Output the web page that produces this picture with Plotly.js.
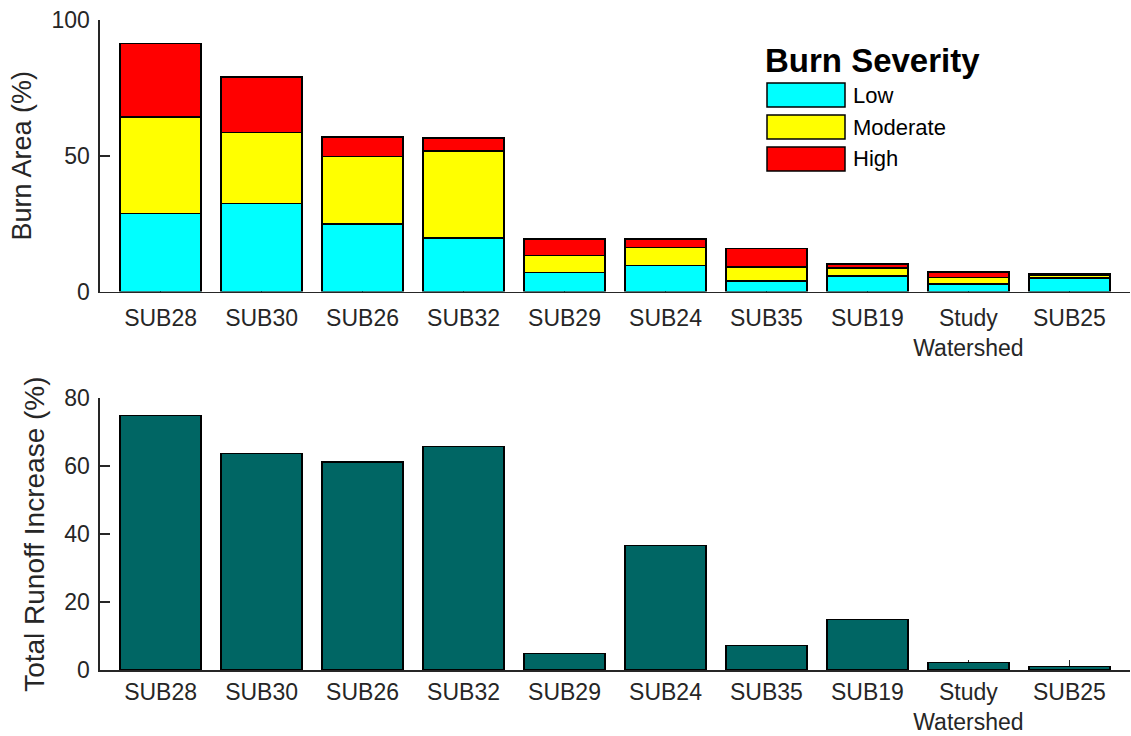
<!DOCTYPE html>
<html>
<head>
<meta charset="utf-8">
<script src="https://cdn.plot.ly/plotly-3.0.1.min.js"></script>
<style>html,body{margin:0;padding:0;background:#fff;}#chart{width:1131px;height:736px;}</style>
</head>
<body>
<div id="chart"></div>
<script>
const categories = ['SUB28','SUB30','SUB26','SUB32','SUB29','SUB24','SUB35','SUB19','Study<br>Watershed','SUB25'];
const lowBurn      = [28.7, 32.4, 24.8, 19.6, 7.0, 9.6, 3.8, 5.6, 2.7, 5.0];
const moderateBurn = [35.5, 26.2, 24.9, 32.2, 6.2, 6.6, 5.2, 3.0, 2.5, 1.0];
const highBurn     = [27.1, 20.5, 7.2, 4.8, 6.2, 3.2, 6.8, 1.5, 1.9, 0.4];
const runoffIncrease = [74.9, 63.8, 61.3, 65.8, 4.8, 36.6, 7.2, 14.9, 2.2, 1.0];
const severityNames = ['Low','Moderate','High'];
const severityColors = ['#00FFFF','#FFFF00','#FF0000'];
const runoffColor = '#006664';

const FONT = '"Liberation Sans", Arial, sans-serif';
const TXT = '#262626';
const barLine = {color:'#000000', width:1.6};

const severityData = [lowBurn, moderateBurn, highBurn];
const traces = severityData.map((vals, i) => ({
  type:'bar', x:categories, y:vals, name:severityNames[i],
  marker:{color:severityColors[i], line:barLine},
  xaxis:'x', yaxis:'y', showlegend:false, hoverinfo:'x+y+name'
}));
traces.push({
  type:'bar', x:categories, y:runoffIncrease, name:'Total Runoff Increase',
  marker:{color:runoffColor, line:barLine},
  xaxis:'x2', yaxis:'y2', showlegend:false
});

const W = 1131, H = 736, ML = 100, MR = 1, MT = 20, MB = 66;
const PW = W - ML - MR, PH = H - MT - MB;
const px = v => (v - ML) / PW;
const py = v => (H - MB - v) / PH;

const xCommon = {
  type:'category', range:[-0.6, 9.6], showline:true, linecolor:TXT, linewidth:1.6,
  ticks:'inside', ticklen:10, tickwidth:1.5, tickcolor:TXT, layer:'below traces',
  tickfont:{family:FONT, size:23, color:TXT}, showgrid:false, zeroline:false,
  fixedrange:true
};
const yCommon = {
  showline:true, linecolor:TXT, linewidth:1.6, ticks:'inside', ticklen:10, tickwidth:1.5,
  tickcolor:TXT, tickfont:{family:FONT, size:23, color:TXT}, showgrid:false, zeroline:false,
  ticklabelstandoff:4, fixedrange:true
};

const layout = {
  width:W, height:H, margin:{l:ML, r:MR, t:MT, b:MB},
  paper_bgcolor:'#ffffff', plot_bgcolor:'#ffffff',
  barmode:'stack', bargap:0.2, showlegend:false,
  font:{family:FONT, color:TXT},
  xaxis:Object.assign({}, xCommon, {anchor:'y', ticklabelstandoff:5}),
  yaxis:Object.assign({}, yCommon, {domain:[py(291.5), 1], range:[0,100], tickvals:[0,50,100],
    title:{text:'Burn Area (%)', font:{family:FONT, size:27, color:TXT}, standoff:12}}),
  xaxis2:Object.assign({}, xCommon, {anchor:'y2', ticklabelstandoff:1}),
  yaxis2:Object.assign({}, yCommon, {domain:[0, py(398.3)], range:[0,80], tickvals:[0,20,40,60,80],
    title:{text:'Total Runoff Increase (%)', font:{family:FONT, size:28, color:TXT}, standoff:11}}),
  shapes:[], annotations:[]
};

// custom legend (Burn Severity) drawn in paper coordinates
const swTop = [83, 115, 147];
layout.annotations.push({
  xref:'paper', yref:'paper', x:px(763), y:py(60), xanchor:'left', yanchor:'middle',
  text:'<b>Burn Severity</b>', showarrow:false, font:{family:FONT, size:33, color:'#000000'}
});
severityNames.forEach((nm, i) => {
  layout.shapes.push({
    type:'rect', xref:'paper', yref:'paper', x0:px(767), x1:px(845), y0:py(swTop[i]), y1:py(swTop[i]+24),
    fillcolor:severityColors[i], line:{color:'#000000', width:1.5}
  });
  layout.annotations.push({
    xref:'paper', yref:'paper', x:px(851), y:py(swTop[i]+12), xanchor:'left', yanchor:'middle',
    text:nm, showarrow:false, font:{family:FONT, size:22, color:'#000000'}
  });
});

Plotly.newPlot('chart', traces, layout, {displayModeBar:false, staticPlot:true});
</script>
</body>
</html>
